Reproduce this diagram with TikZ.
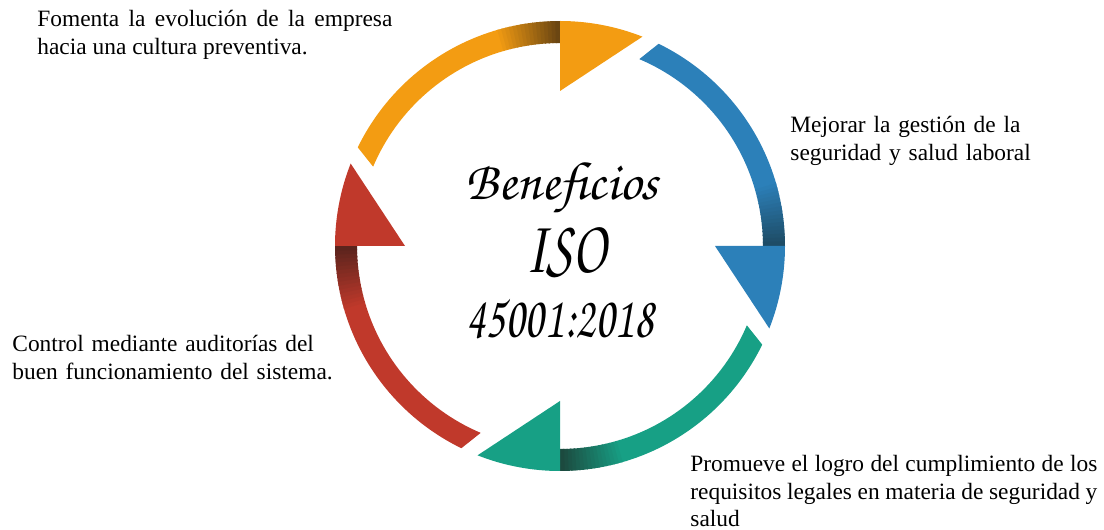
\documentclass[tikz,border=0pt]{standalone}
\usepackage{fontspec}
\setmainfont{Liberation Serif}
\newfontfamily\chorus{texgyrechorus-mediumitalic.otf}
\newfontfamily\chorusnarrow{texgyrechorus-mediumitalic.otf}[FakeStretch=0.74]
\definecolor{arOrange}{HTML}{F39C12}
\definecolor{arOrangeD}{HTML}{6B4612}
\definecolor{arBlue}{HTML}{2C80B9}
\definecolor{arBlueD}{HTML}{1E4C66}
\definecolor{arTeal}{HTML}{17A085}
\definecolor{arTealD}{HTML}{1C4A3F}
\definecolor{arRed}{HTML}{C0392B}
\definecolor{arRedD}{HTML}{5C241D}
\tikzset{
  lbl/.style={font=\fontsize{11.7}{13.6}\selectfont, inner sep=0pt, anchor=base west},
  ctr/.style={inner sep=0pt, anchor=base},
}
\begin{document}
\begin{tikzpicture}[x=0.5pt,y=0.5pt]
  \useasboundingbox (0,0) rectangle (1104,530);
  \def\ro{225}
  \def\ri{203}
  \begin{scope}[shift={(560,284)}]
    \foreach \b/\c/\d in {90/arOrange/arOrangeD, 0/arBlue/arBlueD, -90/arTeal/arTealD, 180/arRed/arRedD} {
      \fill[\c] ({\b+64}:\ro) arc[start angle=\b+64, end angle=\b+17, radius=\ro]
        -- ({\b+17}:\ri) arc[start angle=\b+17, end angle=\b+67, radius=\ri] -- cycle;
      \foreach \i in {0,...,16} {
        \pgfmathsetmacro\p{100-100*\i/16}
        \fill[\c!\p!\d] ({\b+17.2-\i}:\ro) arc[start angle=\b+17.2-\i, end angle=\b+15.8-\i, radius=\ro]
          -- ({\b+15.8-\i}:\ri) arc[start angle=\b+15.8-\i, end angle=\b+17.2-\i, radius=\ri] -- cycle;
      }
      \fill[\c] (\b:\ro) arc[start angle=\b, end angle=\b-21.5, radius=\ro] -- (\b:155) -- cycle;
    }
  \end{scope}
  \node[ctr, font=\chorus\fontsize{27}{30}\selectfont] (benef) at (562,330) {Beneficios};
  \node[ctr, font=\chorusnarrow\fontsize{38}{40}\selectfont] (iso) at (566,257) {ISO};
  \node[ctr, font=\chorusnarrow\fontsize{30}{32}\selectfont] (norma) at (560,192) {45001:2018};
  \node[lbl, text width=177.5pt, align=justify] (fomenta) at (37,503)
    {Fomenta la evolución de la empresa hacia una cultura preventiva.};
  \node[lbl, text width=130pt, align=left] (mejorar) at (790,397)
    {Mejorar la gestión de la\\seguridad y salud laboral};
  \node[lbl, text width=170pt, align=left] (control) at (12,178)
    {Control mediante auditorías del\\buen funcionamiento del sistema.};
  \node[lbl, text width=203.5pt, align=justify] (promueve) at (690,58)
    {Promueve el logro del cumplimiento de los requisitos legales en materia de seguridad y salud};
\end{tikzpicture}
\end{document}
